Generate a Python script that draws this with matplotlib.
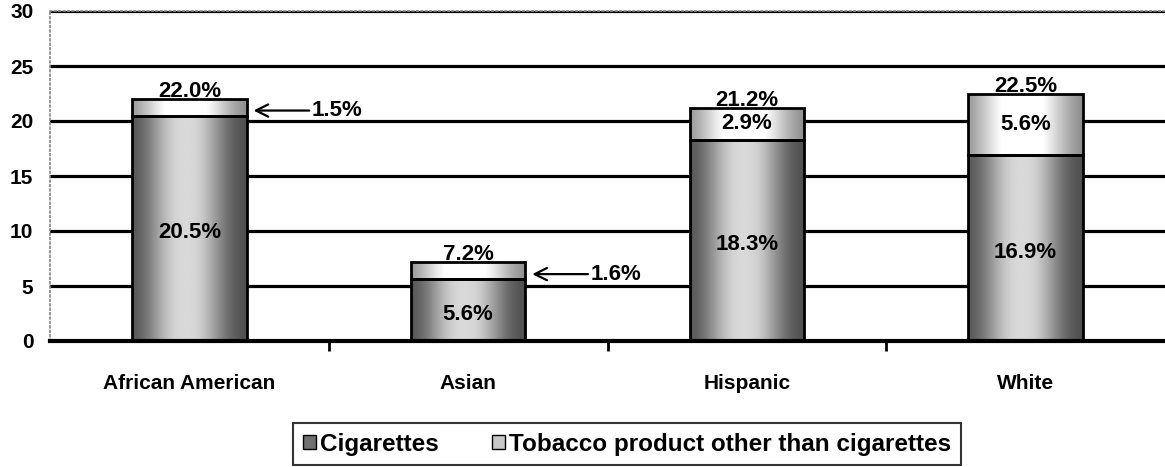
import numpy as np
import matplotlib.pyplot as plt
from matplotlib.patches import Patch

# data
groups = ['African American', 'Asian', 'Hispanic', 'White']
cigarettes = [20.5, 5.6, 18.3, 16.9]
other_tobacco = [1.5, 1.6, 2.9, 5.6]
totals = [22.0, 7.2, 21.2, 22.5]

plt.rcParams['font.family'] = ['Liberation Sans', 'DejaVu Sans']


def shade(dark, light, spread, n=200):
    # cylinder-like shading across the bar width
    t = np.linspace(0, 1, n)
    g = dark + (light - dark) * np.exp(-np.abs((t - 0.47) / spread) ** 2.5)
    return np.tile(np.clip(g, 0, 1), (2, 1))


def gradient_bars(ax, bars, dark, light, spread):
    img = shade(dark, light, spread)
    for b in bars:
        x0, y0 = b.get_x(), b.get_y()
        w, h = b.get_width(), b.get_height()
        im = ax.imshow(img, cmap='gray', vmin=0, vmax=1, aspect='auto',
                       extent=(x0, x0 + w, y0, y0 + h), zorder=2,
                       interpolation='bilinear')
        im.set_clip_path(b)


fig = plt.figure(figsize=(11.65, 4.67), dpi=100)
ax = fig.add_axes([50 / 1165, 1 - 341 / 467, 1 - 50 / 1165, (341 - 11) / 467])

x = np.arange(len(groups))
width = 0.41

b1 = ax.bar(x, cigarettes, width, color='none', edgecolor='black',
            linewidth=2, zorder=3, label='Cigarettes')
b2 = ax.bar(x, other_tobacco, width, bottom=cigarettes, color='none',
            edgecolor='black', linewidth=2, zorder=3,
            label='Tobacco product other than cigarettes')
gradient_bars(ax, b1, 0.3, 0.85, 0.32)
gradient_bars(ax, b2, 0.5, 1.08, 0.38)

ax.set_xlim(-0.5, 3.5)
ax.set_ylim(0, 30)
ax.set_yticks(range(0, 31, 5))
ax.yaxis.grid(True, color='black', linewidth=2.3)
ax.set_axisbelow(True)

ax.set_xticks(x)
ax.set_xticklabels(groups, fontsize=15, fontweight='bold')
ax.set_xticks([0.5, 1.5, 2.5], minor=True)
ax.tick_params(axis='x', which='major', length=0, pad=24)
ax.tick_params(axis='x', which='minor', length=7, width=2, direction='out')
ax.tick_params(axis='y', length=0, pad=12, labelsize=15)
for lab in ax.get_yticklabels():
    lab.set_fontweight('bold')

for side in ['left', 'top']:
    ax.spines[side].set_color('#888888')
    ax.spines[side].set_linestyle(':')
    ax.spines[side].set_linewidth(1.2)
ax.spines['right'].set_visible(False)
ax.spines['bottom'].set_linewidth(3)

# value labels
for i in range(len(groups)):
    ax.text(x[i], totals[i] + 0.15, f'{totals[i]:.1f}%', ha='center',
            va='baseline', fontsize=16, fontweight='bold', zorder=5)
    ax.text(x[i], cigarettes[i] / 2 - 0.4, f'{cigarettes[i]:.1f}%',
            ha='center', va='center', fontsize=16, fontweight='bold', zorder=5)

# small segments labelled with arrows
for i in [0, 1]:
    y = cigarettes[i] + other_tobacco[i] * 0.3
    ax.annotate(f'{other_tobacco[i]:.1f}%', xy=(x[i] + width / 2 + 0.025, y),
                xytext=(x[i] + 0.44, y), va='center', ha='left',
                fontsize=16, fontweight='bold', zorder=5,
                arrowprops=dict(arrowstyle='->', color='black', lw=1.6,
                                mutation_scale=22, shrinkA=0, shrinkB=0))
for i in [2, 3]:
    ax.text(x[i], cigarettes[i] + other_tobacco[i] / 2,
            f'{other_tobacco[i]:.1f}%', ha='center', va='center',
            fontsize=16, fontweight='bold', zorder=5)

handles = [Patch(facecolor='#707070', edgecolor='black', label='Cigarettes'),
           Patch(facecolor='#c8c8c8', edgecolor='black',
                 label='Tobacco product other than cigarettes')]
leg = fig.legend(handles=handles, loc='upper center', ncol=2,
                 bbox_to_anchor=(0.538, 1 - 423 / 467), frameon=True,
                 fancybox=False, edgecolor='black',
                 prop={'size': 17.5, 'weight': 'bold'},
                 handlelength=0.55, handleheight=0.55, handletextpad=0.15,
                 columnspacing=2.2, borderpad=0.4, borderaxespad=0)
leg.get_frame().set_linewidth(1.5)

fig.savefig('out.png', dpi=100)
